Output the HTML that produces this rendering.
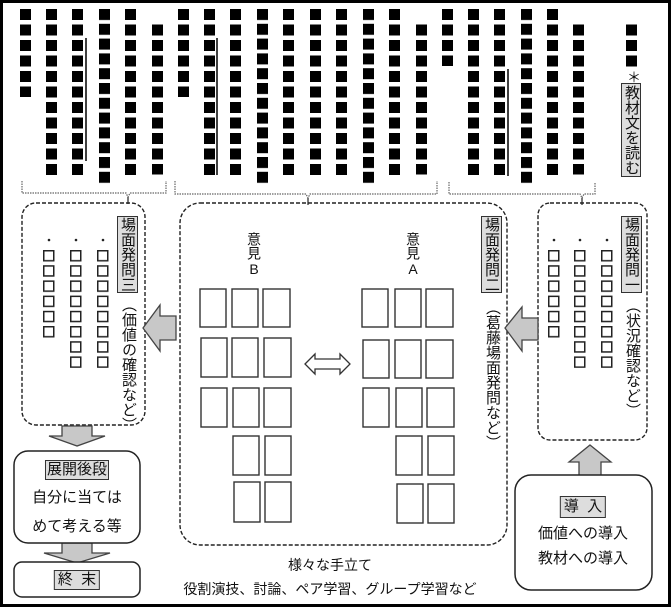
<!DOCTYPE html>
<html><head><meta charset="utf-8"><style>
body{margin:0;background:#fff}
#w{position:relative;width:671px;height:607px;overflow:hidden;font-family:"Liberation Sans","Noto Sans CJK JP",sans-serif;color:#111}
.v{position:absolute;writing-mode:vertical-rl;font-size:15px;line-height:20px;white-space:nowrap}
.g{background:#ddd;border:1.5px solid #333}
.t{position:absolute;font-size:15px;white-space:nowrap;transform:translateX(-50%)}
</style></head><body><div id="w">
<svg width="671" height="607" style="position:absolute;left:0;top:0">
<defs>
<pattern id="sq" patternUnits="userSpaceOnUse" width="20" height="15.5" y="9"><rect x="0" y="0" width="11" height="11" fill="#000"/></pattern>
<pattern id="sq2" patternUnits="userSpaceOnUse" width="20" height="14.8" y="9"><rect x="0" y="0" width="11" height="11" fill="#000"/></pattern>
<pattern id="hs" patternUnits="userSpaceOnUse" width="20" height="15.2" y="250"><rect x="0.75" y="0.75" width="10" height="10" fill="#fff" stroke="#222" stroke-width="1.5"/></pattern>
</defs>
<rect x="1.5" y="1.5" width="668" height="604" fill="none" stroke="#000" stroke-width="3"/>
<g fill="url(#sq)">
<rect transform="translate(20,0)" y="9" width="11" height="88"/>
<rect transform="translate(46,0)" y="9" width="11" height="166"/>
<rect transform="translate(72,0)" y="9" width="11" height="166"/>
<rect transform="translate(125,0)" y="9" width="11" height="166"/>
<rect transform="translate(152,0)" y="24.5" width="11" height="150"/>
<rect transform="translate(178,0)" y="9" width="11" height="88"/>
<rect transform="translate(204,0)" y="9" width="11" height="166"/>
<rect transform="translate(230,0)" y="9" width="11" height="166"/>
<rect transform="translate(283,0)" y="9" width="11" height="166"/>
<rect transform="translate(310,0)" y="9" width="11" height="166"/>
<rect transform="translate(336,0)" y="9" width="11" height="166"/>
<rect transform="translate(389,0)" y="9" width="11" height="166"/>
<rect transform="translate(416,0)" y="24.5" width="11" height="150"/>
<rect transform="translate(442,0)" y="9" width="11" height="57"/>
<rect transform="translate(468,0)" y="9" width="11" height="166"/>
<rect transform="translate(494,0)" y="9" width="11" height="166"/>
<rect transform="translate(547,0)" y="9" width="11" height="166"/>
<rect transform="translate(573,0)" y="24.5" width="11" height="150"/>
<rect transform="translate(626,0)" y="24.5" width="11" height="42"/>
</g>
<g fill="url(#sq2)">
<rect transform="translate(99,0)" y="9" width="11" height="175"/>
<rect transform="translate(257,0)" y="9" width="11" height="175"/>
<rect transform="translate(363,0)" y="9" width="11" height="175"/>
<rect transform="translate(521,0)" y="9" width="11" height="175"/>
</g>
<g stroke="#000" stroke-width="1.5"><line x1="86" y1="38" x2="86" y2="161"/><line x1="217" y1="38" x2="217" y2="175"/><line x1="508" y1="69" x2="508" y2="176"/></g>
<g fill="none" stroke="#666" stroke-width="1.2" stroke-dasharray="1.5 1">
<path d="M22 181 V193 H126 L128 197 L130 193 H166 V181"/>
<path d="M175 181 V194 H306 L308 198 L310 194 H437 V181"/>
<path d="M449 182 V194 H580 L582 198 L584 194 H595 V182"/>
</g>
<g stroke="#333" stroke-width="1.3"><line x1="128" y1="197" x2="128" y2="204"/><line x1="308" y1="198" x2="308" y2="205"/><line x1="582" y1="198" x2="582" y2="205"/></g>
<g fill="none" stroke="#222" stroke-width="1.4" stroke-dasharray="4 2">
<rect x="22" y="203" width="123" height="222" rx="14"/>
<rect x="180" y="203" width="327" height="342" rx="20"/>
<rect x="538" y="203" width="109" height="237" rx="12"/>
</g>
<g fill="url(#hs)">
<rect transform="translate(43,0)" y="250" width="12" height="88"/>
<rect transform="translate(70,0)" y="250" width="12" height="118"/>
<rect transform="translate(97,0)" y="250" width="12" height="118"/>
<rect transform="translate(548,0)" y="250" width="12" height="88"/>
<rect transform="translate(574,0)" y="250" width="12" height="118"/>
<rect transform="translate(601,0)" y="250" width="12" height="118"/>
</g>
<g fill="#222"><circle cx="49" cy="240" r="1.3"/><circle cx="76" cy="240" r="1.3"/><circle cx="103" cy="240" r="1.3"/><circle cx="554" cy="240" r="1.3"/><circle cx="580" cy="240" r="1.3"/><circle cx="607" cy="240" r="1.3"/></g>
<g fill="#fff" stroke="#333" stroke-width="1.4">
<rect x="200" y="289" width="26" height="38"/><rect x="232" y="289" width="26" height="38"/><rect x="263" y="289" width="27" height="38"/>
<rect x="201" y="338" width="26" height="39"/><rect x="232" y="338" width="26" height="39"/><rect x="264" y="338" width="27" height="39"/>
<rect x="201" y="388" width="26" height="39"/><rect x="233" y="388" width="26" height="39"/><rect x="264" y="388" width="27" height="39"/>
<rect x="233" y="436" width="26" height="39"/><rect x="265" y="436" width="26" height="39"/>
<rect x="234" y="482" width="26" height="40"/><rect x="265" y="482" width="26" height="40"/>
<rect x="362" y="289" width="26" height="38"/><rect x="395" y="289" width="26" height="38"/><rect x="426" y="289" width="27" height="38"/>
<rect x="363" y="340" width="26" height="38"/><rect x="395" y="340" width="26" height="38"/><rect x="426" y="340" width="27" height="38"/>
<rect x="363" y="388" width="26" height="39"/><rect x="396" y="388" width="26" height="39"/><rect x="427" y="388" width="27" height="39"/>
<rect x="396" y="436" width="26" height="39"/><rect x="428" y="436" width="26" height="39"/>
<rect x="397" y="484" width="26" height="39"/><rect x="428" y="484" width="26" height="39"/>
</g>
<path d="M305 364 L315 354 V359 H340 V354 L350 364 L340 374 V369 H315 V374 Z" fill="#fff" stroke="#333" stroke-width="1.3"/>
<g fill="#c8c8c8" stroke="#444" stroke-width="1.3">
<path d="M143 328 L160 305 V316 H176 V340 H160 V351 Z"/>
<path d="M505 328 L522 307 V318 H538 V340 H522 V351 Z"/>
<path d="M590 445 L611 462 H601 V479 H579 V462 H569 Z"/>
<path d="M77 446 L49 436 H62 V426 H92 V436 H105 Z"/>
<path d="M77 563 L44 553 H62 V543 H92 V553 H110 Z"/>
</g>
<g fill="#fff" stroke="#222" stroke-width="1.5">
<rect x="14" y="451" width="126" height="92" rx="14"/>
<rect x="14" y="562" width="126" height="35" rx="8"/>
<rect x="515" y="475" width="137" height="115" rx="16"/>
</g>
</svg>
<div class="v" style="left:624px;top:70px;font-size:14px">＊</div>
<div class="v g" style="left:621px;top:83px;font-size:15px;line-height:18px;padding:1px 0">教材文を読む</div>
<div class="v g" style="left:117px;top:216px;line-height:19px">場面発問三</div>
<div class="v" style="left:118px;top:297px;line-height:20px">（価値の確認など）</div>
<div class="v g" style="left:481px;top:216px;line-height:19px">場面発問二</div>
<div class="v" style="left:482px;top:300px;line-height:20px">（葛藤場面発問など）</div>
<div class="v g" style="left:621px;top:216px;line-height:19px">場面発問一</div>
<div class="v" style="left:622px;top:298px;line-height:20px">（状況確認など）</div>
<div class="v" style="left:245px;top:232px;font-size:14px;line-height:18px">意見<span style="writing-mode:horizontal-tb">B</span></div>
<div class="v" style="left:404px;top:232px;font-size:14px;line-height:18px">意見<span style="writing-mode:horizontal-tb">A</span></div>
<div class="t g" style="left:77px;top:460px;padding:0 1px;line-height:18px">展開後段</div>
<div class="t" style="left:77px;top:486px">自分に当ては</div>
<div class="t" style="left:77px;top:515px">めて考える等</div>
<div class="t g" style="left:77px;top:570px;padding:0 3px;line-height:18px">終&nbsp;&nbsp;末</div>
<div class="t g" style="left:583px;top:496px;padding:0 3px;line-height:20px">導&nbsp;&nbsp;入</div>
<div class="t" style="left:583px;top:522px">価値への導入</div>
<div class="t" style="left:583px;top:547px">教材への導入</div>
<div class="t" style="left:330px;top:555px;font-size:14px">様々な手立て</div>
<div class="t" style="left:330px;top:579px;font-size:14px">役割演技、討論、ペア学習、グループ学習など</div>
</div></body></html>
